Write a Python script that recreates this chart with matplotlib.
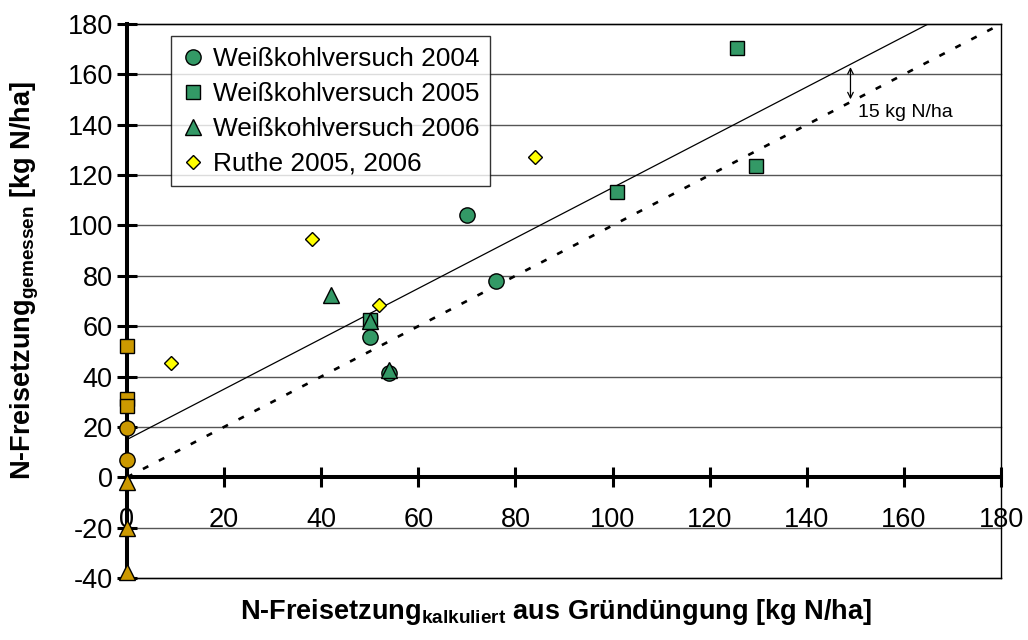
import numpy as np
import matplotlib
matplotlib.use('Agg')
import matplotlib.pyplot as plt

plt.rcParams['font.family'] = ['Liberation Sans', 'DejaVu Sans']
plt.rcParams['axes.unicode_minus'] = False
plt.rcParams['mathtext.fontset'] = 'custom'
plt.rcParams['mathtext.rm'] = 'Liberation Sans'
plt.rcParams['mathtext.bf'] = 'Liberation Sans:bold'

# Weißkohlversuch 2004 (Kreise)
wk04_x = [70, 76, 50, 54]
wk04_y = [104, 78, 55.7, 41.5]
# Weißkohlversuch 2005 (Quadrate)
wk05_x = [125.7, 129.5, 101, 50]
wk05_y = [170.5, 123.5, 113.2, 62.5]
# Weißkohlversuch 2006 (Dreiecke)
wk06_x = [42, 50, 54]
wk06_y = [72.5, 62, 42.5]
# Ruthe 2005, 2006 (Rauten)
ruthe_x = [9, 38, 52, 84]
ruthe_y = [45.5, 94.5, 68.5, 127.3]
# Werte ohne Berechnung (x = 0)
null_kreis_y = [19.5, 7]
null_quad_y = [52.2, 31, 28.2]
null_drei_y = [-2, -20, -37.5]

gruen = '#339966'
orange = '#CC9900'
gelb = '#FFFF00'

fig = plt.figure(figsize=(10.28, 6.4), dpi=100)
ax = fig.add_axes([127/1028, 1-578/640, 874/1028, 554/640])

ax.set_xlim(0, 180)
ax.set_ylim(-40, 180)

for yv in range(-40, 181, 20):
    ax.axhline(yv, color='#555555', lw=1, zorder=1, clip_on=False)

# 1:1-Linie und +15 Linie
lx = np.array([0, 180])
ax.plot(lx, lx, color='black', lw=1.9, dashes=(2.3, 4.5), zorder=2)
ax.plot([0, 165], [15, 180], color='black', lw=0.9, zorder=2)

mk = dict(markeredgecolor='black', markeredgewidth=1, linestyle='none',
          clip_on=False, zorder=5)
ax.plot(wk04_x, wk04_y, 'o', ms=11, color=gruen, label='Weißkohlversuch 2004', **mk)
ax.plot(wk05_x, wk05_y, 's', ms=10.5, color=gruen, label='Weißkohlversuch 2005', **mk)
ax.plot(wk06_x, wk06_y, '^', ms=11, color=gruen, label='Weißkohlversuch 2006', **mk)
ax.plot(ruthe_x, ruthe_y, 'D', ms=7.5, color=gelb, label='Ruthe 2005, 2006', **mk)
ax.plot(np.zeros(len(null_kreis_y)), null_kreis_y, 'o', ms=11, color=orange, **mk)
ax.plot(np.zeros(len(null_quad_y)), null_quad_y, 's', ms=10.5, color=orange, **mk)
ax.plot(np.zeros(len(null_drei_y)), null_drei_y, '^', ms=11, color=orange, **mk)

ax.annotate('', xy=(149, 164), xytext=(149, 149),
            arrowprops=dict(arrowstyle='<->', color='black', lw=0.9))
ax.text(150.5, 145, '15 kg N/ha', fontsize=14, va='center', ha='left')

# Achsen
ax.spines['left'].set_linewidth(2.9)
ax.spines['left'].set_position(('data', 0))
ax.spines['bottom'].set_linewidth(2.9)
ax.spines['bottom'].set_position(('data', 0))
ax.spines['right'].set_linewidth(1)
ax.spines['top'].set_linewidth(1)
ax.axhline(-40, color='black', lw=1, zorder=1, clip_on=False)

ax.set_xticks(range(0, 181, 20))
ax.set_yticks(range(-40, 181, 20))
ax.tick_params(axis='both', direction='inout', length=14.5, width=2.2,
               labelsize=19.5)
ax.tick_params(axis='x', pad=14)
ax.tick_params(axis='y', pad=3)

leg = ax.legend(loc='upper left', bbox_to_anchor=(0.05, 0.978), borderaxespad=0,
                fontsize=18.9, frameon=True, fancybox=False, shadow=False,
                handlelength=0.9, handletextpad=0.3, labelspacing=0.42,
                borderpad=0.4, numpoints=1)
leg.get_frame().set_edgecolor('black')
leg.get_frame().set_linewidth(1)
leg.set_zorder(6)

fig.text(556/1028, 1-612/640,
         r'N-Freisetzung$_{\mathbf{kalkuliert}}$ aus Gründüngung [kg N/ha]',
         fontsize=19.5, fontweight='bold', ha='center', va='center')
fig.text(25/1028, 1-281/640,
         r'N-Freisetzung$_{\mathbf{gemessen}}$ [kg N/ha]',
         fontsize=19.5, fontweight='bold', ha='center', va='center', rotation=90)

fig.savefig('out.png', dpi=100)
